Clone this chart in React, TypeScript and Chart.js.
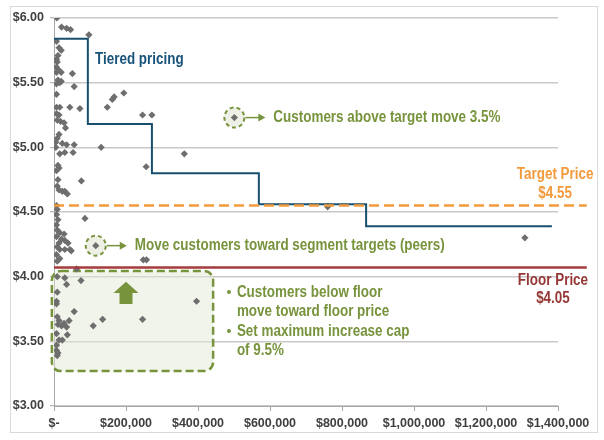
import { useEffect, useRef } from 'react';
import { Chart, registerables } from 'chart.js';
Chart.register(...registerables);

// Customer annual volume ($) and price per unit ($)
const customerVolumeK = [
  8, 21, 35, 46, 97, 7, 14, 20, 11, 7,
  9, 7, 12, 20, 7, 51, 11, 20, 7, 16,
  56, 7, 194, 167, 162, 148, 7, 16, 44, 72,
  7, 14, 9, 18, 28, 32, 246, 272, 501, 14,
  9, 5, 23, 35, 56, 131, 5, 16, 30, 53,
  362, 256, 11, 7, 14, 76, 11, 9, 14, 23,
  30, 37, 7, 9, 760, 86, 7, 11, 7, 9,
  16, 28, 7, 21, 30, 14, 39, 9, 16, 30,
  44, 48, 7, 16, 9, 116, 248, 257, 1308, 63,
  9, 30, 35, 75, 9, 7, 7, 396, 56, 9,
  14, 11, 21, 35, 42, 28, 135, 109, 246, 7,
  14, 23, 37, 7, 7, 11, 9,
];
const customerPrice = [
  6.0, 5.93, 5.92, 5.91, 5.87, 5.82, 5.77, 5.75, 5.71, 5.68,
  5.66, 5.62, 5.6, 5.58, 5.58, 5.57, 5.52, 5.51, 5.49, 5.5,
  5.47, 5.41, 5.42, 5.39, 5.37, 5.31, 5.31, 5.31, 5.31, 5.3,
  5.26, 5.25, 5.21, 5.2, 5.19, 5.15, 5.25, 5.25, 5.23, 5.1,
  5.07, 5.04, 5.03, 5.02, 5.02, 5.0, 5.0, 4.95, 4.96, 4.96,
  4.95, 4.85, 4.86, 4.82, 4.84, 4.74, 4.75, 4.7, 4.67, 4.66,
  4.66, 4.64, 4.55, 4.52, 4.54, 4.45, 4.48, 4.44, 4.4, 4.36,
  4.34, 4.33, 4.31, 4.29, 4.28, 4.26, 4.26, 4.23, 4.21, 4.21,
  4.21, 4.2, 4.17, 4.14, 4.12, 4.24, 4.13, 4.13, 4.3, 4.06,
  4.0, 3.99, 3.94, 3.97, 3.88, 3.81, 3.79, 3.81, 3.73, 3.69,
  3.66, 3.63, 3.62, 3.61, 3.66, 3.64, 3.67, 3.62, 3.67, 3.56,
  3.51, 3.51, 3.55, 3.47, 3.43, 3.41, 3.39,
];

// Tiered pricing steps
const tierBreaks = [0, 94000, 272000, 569000, 867000, 1383000];
const tierPrices = [5.84, 5.18, 4.8, 4.56, 4.39];

// Reference lines
const targetPrice = 4.55;
const floorLine = 4.07;
const refLineStart = 0;
const refLineEnd = 1480000;

// Axis ticks
const xTicks = [0, 200000, 400000, 600000, 800000, 1000000, 1200000, 1400000];
const yTicks = [3.0, 3.5, 4.0, 4.5, 5.0, 5.5, 6.0];

// Annotation texts
const tieredLabel = 'Tiered pricing';
const aboveLabel = 'Customers above target move 3.5%';
const peersLabel = 'Move customers toward segment targets (peers)';
const targetLabel = ['Target Price', '$4.55'];
const floorLabel = ['Floor Price', '$4.05'];
const belowLines = [
  ['•', 'Customers below floor'],
  ['', 'move toward floor price'],
  ['•', 'Set maximum increase cap'],
  ['', 'of 9.5%'],
];

const GREEN = '#77933c';
const FONT = '"Liberation Sans", Arial, sans-serif';
const SX = 0.84;

function drawText(ctx: CanvasRenderingContext2D, s: string, x: number, y: number, color: string, align: 'left' | 'center' = 'left', size = 16) {
  ctx.save();
  ctx.font = `bold ${size}px ${FONT}`;
  ctx.fillStyle = color;
  ctx.textBaseline = 'middle';
  ctx.textAlign = 'left';
  const w = ctx.measureText(s).width * SX;
  const left = align === 'center' ? x - w / 2 : x;
  ctx.translate(left, y);
  ctx.scale(SX, 1);
  ctx.fillText(s, 0, 0);
  ctx.restore();
}

function iconCircle(ctx: CanvasRenderingContext2D, cx: number, cy: number) {
  ctx.save();
  ctx.beginPath();
  ctx.arc(cx, cy, 10, 0, Math.PI * 2);
  ctx.fillStyle = '#eef0e6';
  ctx.fill();
  ctx.setLineDash([4, 3]);
  ctx.lineWidth = 2;
  ctx.strokeStyle = GREEN;
  ctx.stroke();
  ctx.restore();
}

function rightArrow(ctx: CanvasRenderingContext2D, cx: number, cy: number) {
  ctx.save();
  ctx.strokeStyle = GREEN;
  ctx.fillStyle = GREEN;
  ctx.lineWidth = 1.5;
  ctx.beginPath();
  ctx.moveTo(cx + 11, cy);
  ctx.lineTo(cx + 25, cy);
  ctx.stroke();
  ctx.beginPath();
  ctx.moveTo(cx + 31, cy);
  ctx.lineTo(cx + 24, cy - 4);
  ctx.lineTo(cx + 24, cy + 4);
  ctx.closePath();
  ctx.fill();
  ctx.restore();
}

const annotations = {
  id: 'annotations',
  beforeDraw(chart: any) {
    const ctx = chart.ctx;
    ctx.save();
    ctx.strokeStyle = '#d9d9d9';
    ctx.lineWidth = 1;
    ctx.strokeRect(10.5, 6.5, 587, 426);
    ctx.restore();
  },
  beforeDatasetsDraw(chart: any) {
    const ctx = chart.ctx;
    const xs = chart.scales.x;
    const ys = chart.scales.y;
    const x0 = xs.getPixelForValue(-6000);
    const x1 = xs.getPixelForValue(442000);
    const y0 = ys.getPixelForValue(4.044);
    const y1 = ys.getPixelForValue(3.27);
    ctx.save();
    ctx.beginPath();
    ctx.roundRect(x0, y0, x1 - x0, y1 - y0, 9);
    ctx.fillStyle = 'rgba(228,233,214,0.5)';
    ctx.fill();
    ctx.setLineDash([8, 4]);
    ctx.lineWidth = 2.5;
    ctx.strokeStyle = GREEN;
    ctx.stroke();
    ctx.restore();
    iconCircle(ctx, xs.getPixelForValue(501000), ys.getPixelForValue(5.23));
    iconCircle(ctx, xs.getPixelForValue(116000), ys.getPixelForValue(4.24));
  },
  afterDatasetsDraw(chart: any) {
    const ctx = chart.ctx;
    const xs = chart.scales.x;
    const ys = chart.scales.y;
    drawText(ctx, tieredLabel, xs.getPixelForValue(114000), ys.getPixelForValue(5.675), '#17527a');

    const c1x = xs.getPixelForValue(501000), c1y = ys.getPixelForValue(5.23);
    rightArrow(ctx, c1x, c1y);
    drawText(ctx, aboveLabel, c1x + 39, c1y, GREEN);

    const c2x = xs.getPixelForValue(116000), c2y = ys.getPixelForValue(4.24);
    rightArrow(ctx, c2x, c2y);
    drawText(ctx, peersLabel, c2x + 39, c2y, GREEN);

    drawText(ctx, targetLabel[0], xs.getPixelForValue(1392000), ys.getPixelForValue(4.79), '#f39a3c', 'center');
    drawText(ctx, targetLabel[1], xs.getPixelForValue(1392000), ys.getPixelForValue(4.64), '#f39a3c', 'center');
    drawText(ctx, floorLabel[0], xs.getPixelForValue(1386000), ys.getPixelForValue(3.97), '#953735', 'center');
    drawText(ctx, floorLabel[1], xs.getPixelForValue(1386000), ys.getPixelForValue(3.83), '#953735', 'center');

    const ax = xs.getPixelForValue(200000);
    const aTop = ys.getPixelForValue(3.96);
    const aBase = ys.getPixelForValue(3.874);
    const aBot = ys.getPixelForValue(3.789);
    ctx.save();
    ctx.fillStyle = GREEN;
    ctx.beginPath();
    ctx.moveTo(ax, aTop);
    ctx.lineTo(ax + 12.5, aBase);
    ctx.lineTo(ax + 6.5, aBase);
    ctx.lineTo(ax + 6.5, aBot);
    ctx.lineTo(ax - 6.5, aBot);
    ctx.lineTo(ax - 6.5, aBase);
    ctx.lineTo(ax - 12.5, aBase);
    ctx.closePath();
    ctx.fill();
    ctx.restore();

    const lineYs = [3.874, 3.727, 3.572, 3.425];
    const bx = xs.getPixelForValue(486000);
    const tx = xs.getPixelForValue(508000);
    belowLines.forEach((ln, i) => {
      const y = ys.getPixelForValue(lineYs[i]);
      if (ln[0]) {
        ctx.save();
        ctx.fillStyle = GREEN;
        ctx.beginPath();
        ctx.arc(bx, y - 1, 2, 0, Math.PI * 2);
        ctx.fill();
        ctx.restore();
      }
      drawText(ctx, ln[1], tx, y, GREEN);
    });
  },
};

export default function App() {
  const ref = useRef<HTMLCanvasElement>(null);
  useEffect(() => {
    if (!ref.current) return;
    const points = customerVolumeK.map((v, i) => ({ x: v * 1000, y: customerPrice[i] }));
    const tierData: { x: number; y: number }[] = [];
    tierPrices.forEach((p, i) => {
      tierData.push({ x: tierBreaks[i], y: p });
      tierData.push({ x: tierBreaks[i + 1], y: p });
    });
    const chart = new Chart(ref.current, {
      type: 'scatter',
      data: {
        datasets: [
          {
            label: 'Customers',
            data: points,
            pointStyle: 'rectRot',
            pointRadius: 3.6,
            backgroundColor: '#6e6e6e',
            borderColor: '#6e6e6e',
            borderWidth: 0,
            order: 3,
          } as any,
          {
            label: 'Tiered pricing',
            type: 'line',
            data: tierData,
            showLine: true,
            borderColor: '#17506e',
            borderWidth: 2,
            pointRadius: 0,
            fill: false,
            order: 2,
          } as any,
          {
            label: 'Target Price',
            type: 'line',
            data: [{ x: refLineStart, y: targetPrice }, { x: refLineEnd, y: targetPrice }],
            showLine: true,
            borderColor: '#f39a3c',
            borderWidth: 2.5,
            borderDash: [10, 5],
            pointRadius: 0,
            clip: false,
            order: 1,
          } as any,
          {
            label: 'Floor Price',
            type: 'line',
            data: [{ x: refLineStart, y: floorLine }, { x: refLineEnd, y: floorLine }],
            showLine: true,
            borderColor: '#a63a3c',
            borderWidth: 2.5,
            pointRadius: 0,
            clip: false,
            order: 1,
          } as any,
        ],
      },
      options: {
        animation: false,
        responsive: false,
        devicePixelRatio: 1,
        layout: { padding: { top: 18, right: 46, left: 0, bottom: 0 } },
        plugins: { legend: { display: false }, tooltip: { enabled: false } },
        scales: {
          x: {
            type: 'linear',
            min: 0,
            max: 1400000,
            afterBuildTicks: (s: any) => { s.ticks = xTicks.map((v) => ({ value: v })); },
            afterFit: (s: any) => { s.height = 34; },
            grid: { drawOnChartArea: false, drawTicks: true, tickLength: 5, color: '#a6a6a6' },
            border: { color: '#a6a6a6', width: 1 },
            ticks: {
              padding: 5,
              maxRotation: 0,
              autoSkip: false,
              color: '#404040',
              font: { family: FONT, size: 12.5, weight: 'bold' },
              callback: (v: any) => (v === 0 ? '$-' : '$' + Number(v).toLocaleString('en-US')),
            },
          },
          y: {
            type: 'linear',
            min: 3,
            max: 6,
            afterBuildTicks: (s: any) => { s.ticks = yTicks.map((v) => ({ value: v })); },
            afterFit: (s: any) => { s.width = 54; },
            grid: { color: '#c8c8c8', lineWidth: 1.5, tickLength: 4, tickColor: '#a6a6a6', tickWidth: 1 },
            border: { color: '#a6a6a6', width: 1 },
            ticks: {
              padding: 6,
              color: '#404040',
              font: { family: FONT, size: 12.5, weight: 'bold' },
              callback: (v: any) => '$' + Number(v).toFixed(2),
            },
          },
        },
      },
      plugins: [annotations],
    });
    return () => chart.destroy();
  }, []);
  return (
    <div style={{ position: 'fixed', left: 0, top: 0, width: 604, height: 440, background: '#fff' }}>
      <canvas ref={ref} width={604} height={440} />
    </div>
  );
}
